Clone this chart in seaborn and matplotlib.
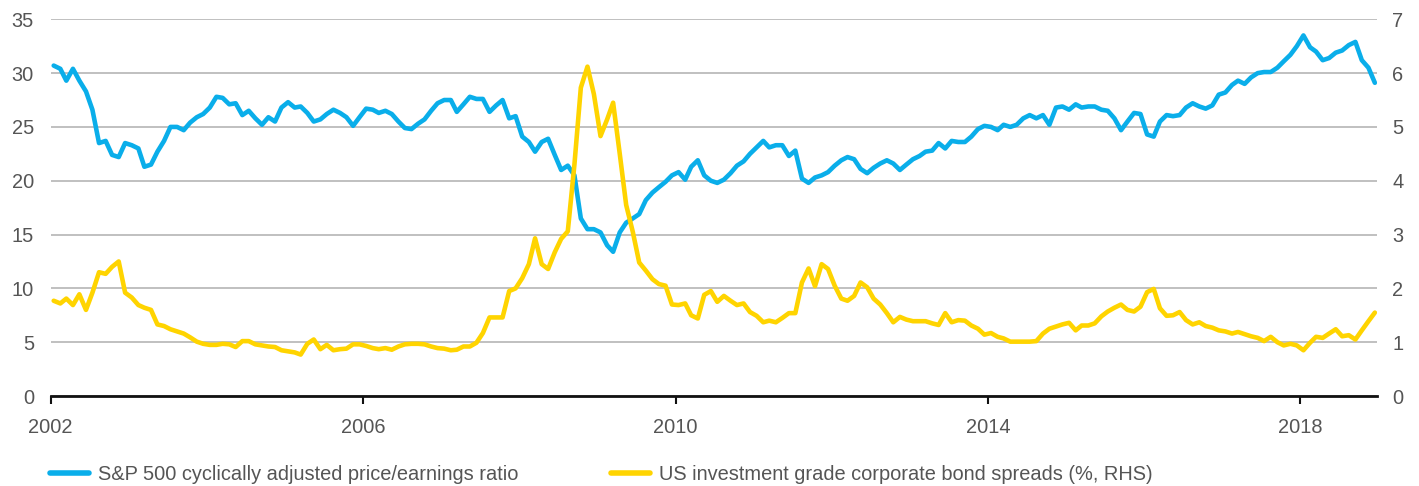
import numpy as np
import pandas as pd
import matplotlib
matplotlib.use("Agg")
import matplotlib.pyplot as plt
from matplotlib.lines import Line2D
import seaborn as sns

# ---------------- data (monthly, Jan 2002 - Dec 2018) ----------------
start_month = "2002-01-01"
n_months = 204

cape = [
    30.7, 30.4, 29.3, 30.4, 29.3, 28.3, 26.6, 23.5, 23.7, 22.4,
    22.2, 23.5, 23.3, 23.0, 21.3, 21.5, 22.7, 23.7, 25.0, 25.0,
    24.7, 25.4, 25.9, 26.2, 26.8, 27.8, 27.7, 27.1, 27.2, 26.1,
    26.5, 25.8, 25.2, 25.9, 25.5, 26.8, 27.3, 26.8, 26.9, 26.3,
    25.5, 25.7, 26.2, 26.6, 26.3, 25.9, 25.1, 25.9,
    26.7, 26.6, 26.3, 26.5, 26.2, 25.5, 24.9, 24.8, 25.3, 25.7, 26.5, 27.2, 27.5, 27.5,
    26.4, 27.1, 27.8, 27.6, 27.6, 26.4, 27.0, 27.5,
    25.8, 26.0, 24.1, 23.6, 22.7, 23.6, 23.9, 22.4, 21.0, 21.4,
    20.5, 16.5, 15.5, 15.5, 15.2, 14.0, 13.4, 15.2, 16.1, 16.5,
    16.9, 18.2, 18.9, 19.4, 19.9, 20.5, 20.8, 20.1, 21.3, 21.9,
    20.5, 20.0, 19.8, 20.1, 20.7, 21.4, 21.8, 22.5, 23.1, 23.7,
    23.1, 23.3, 23.3, 22.3, 22.8, 20.2, 19.8, 20.3, 20.5, 20.8,
    21.4, 21.9, 22.2, 22.0, 21.1, 20.7, 21.2, 21.6, 21.9, 21.6,
    21.0, 21.5, 22.0, 22.3, 22.7, 22.8, 23.5, 23.0, 23.7, 23.6,
    23.6, 24.1, 24.8, 25.1, 25.0, 24.7, 25.2, 25.0, 25.2, 25.8,
    26.1, 25.8, 26.1, 25.2, 26.8, 26.9, 26.6, 27.1, 26.8, 26.9,
    26.9, 26.6, 26.5, 25.8, 24.7, 25.5, 26.3, 26.2, 24.3, 24.1,
    25.5, 26.1, 26.0, 26.1, 26.8, 27.2, 26.9, 26.7, 27.0, 28.0,
    28.2, 28.9, 29.3, 29.0, 29.6, 30.0, 30.1, 30.1, 30.5, 31.1,
    31.7, 32.5, 33.5, 32.4, 32.0, 31.2, 31.4, 31.9, 32.1, 32.6,
    32.9, 31.2, 30.5, 29.1,
]

spread = [
    1.77, 1.72, 1.81, 1.69, 1.89, 1.60, 1.92, 2.30, 2.27, 2.40,
    2.50, 1.92, 1.83, 1.69, 1.64, 1.60, 1.33, 1.30, 1.24, 1.20,
    1.16, 1.09, 1.01, 0.97, 0.95, 0.95, 0.97, 0.96, 0.91, 1.02,
    1.02, 0.96, 0.94, 0.92, 0.91, 0.85, 0.83, 0.81, 0.77, 0.97,
    1.05, 0.87, 0.95, 0.85, 0.87, 0.88, 0.96, 0.96, 0.93, 0.89,
    0.87, 0.89, 0.86, 0.92, 0.96, 0.97, 0.97, 0.96, 0.92, 0.89,
    0.88, 0.85, 0.86, 0.92, 0.92, 0.99, 1.17, 1.46, 1.46, 1.46,
    1.95, 2.00, 2.19, 2.45, 2.93, 2.45, 2.36, 2.67, 2.92, 3.06,
    4.30, 5.73, 6.12, 5.61, 4.83, 5.14, 5.45, 4.50, 3.55, 3.05,
    2.48, 2.33, 2.17, 2.08, 2.05, 1.70, 1.69, 1.72, 1.50, 1.44,
    1.88, 1.95, 1.75, 1.86, 1.77, 1.69, 1.72, 1.56, 1.49, 1.37,
    1.40, 1.37, 1.45, 1.54, 1.54, 2.11, 2.37, 2.04, 2.45, 2.36,
    2.05, 1.81, 1.77, 1.86, 2.11, 2.02, 1.81, 1.70, 1.54, 1.37,
    1.47, 1.42, 1.39, 1.39, 1.39, 1.35, 1.32, 1.54, 1.37, 1.41,
    1.40, 1.31, 1.25, 1.14, 1.17, 1.10, 1.07, 1.01, 1.01, 1.01,
    1.01, 1.02, 1.16, 1.25, 1.29, 1.33, 1.36, 1.22, 1.31, 1.31,
    1.35, 1.48, 1.57, 1.64, 1.70, 1.60, 1.57, 1.66, 1.93, 1.99,
    1.63, 1.49, 1.50, 1.56, 1.41, 1.33, 1.37, 1.30, 1.27, 1.22,
    1.20, 1.16, 1.19, 1.15, 1.11, 1.08, 1.02, 1.10, 1.00, 0.94,
    0.97, 0.94, 0.85, 0.99, 1.10, 1.08, 1.16, 1.24, 1.11, 1.13,
    1.05, 1.22, 1.39, 1.55,
]

year_ticks = [2002, 2006, 2010, 2014, 2018]
left_ticks = [0, 5, 10, 15, 20, 25, 30, 35]
right_ticks = [0, 1, 2, 3, 4, 5, 6, 7]
cape_label = "S&P 500 cyclically adjusted price/earnings ratio"
spread_label = "US investment grade corporate bond spreads (%, RHS)"

# ---------------- styling ----------------
BLUE = "#0AAEEA"
YELLOW = "#FFD400"
GRID = "#B5B5B5"
TEXT = "#555555"
FS = 14.4

sns.set_theme(style="white")
plt.rcParams["font.family"] = ["Liberation Sans", "DejaVu Sans"]

dates = pd.date_range(start_month, periods=n_months, freq="MS") + pd.Timedelta(days=14)
df = pd.DataFrame({"date": dates, "cape": cape, "spread": spread})

W, H = 1419, 486
fig = plt.figure(figsize=(W / 100, H / 100), dpi=100)
left_px, right_px, top_px, bottom_px = 50.7, 1377, 19.3, 396
ax = fig.add_axes([left_px / W, 1 - bottom_px / H,
                   (right_px - left_px) / W, (bottom_px - top_px) / H])
ax2 = ax.twinx()

sns.lineplot(data=df, x="date", y="cape", ax=ax, color=BLUE, linewidth=3.3,
             legend=False)
sns.lineplot(data=df, x="date", y="spread", ax=ax2, color=YELLOW, linewidth=3.3,
             legend=False)

ax.set_ylim(0, 35)
ax2.set_ylim(0, 7)
ax.set_xlim(pd.Timestamp("2002-01-01"), pd.Timestamp("2018-12-25"))

ax.set_yticks(left_ticks)
ax2.set_yticks(right_ticks)
ax.set_xticks([pd.Timestamp(f"{y}-01-01") for y in year_ticks])
ax.set_xticklabels([str(y) for y in year_ticks])

for a in (ax, ax2):
    a.set_xlabel("")
    a.set_ylabel("")
    for s in ("top", "left", "right"):
        a.spines[s].set_visible(False)
ax2.spines["bottom"].set_visible(False)
ax.spines["bottom"].set_color("#111111")
ax.spines["bottom"].set_linewidth(2.0)
ax.spines["bottom"].set_zorder(5)

ax.yaxis.grid(True, color=GRID, linewidth=1.2)
ax.xaxis.grid(False)
ax2.grid(False)
ax.set_axisbelow(True)

ax.tick_params(axis="y", length=0, pad=12, labelsize=FS, labelcolor=TEXT)
ax2.tick_params(axis="y", length=0, pad=11, labelsize=FS, labelcolor=TEXT)
ax.tick_params(axis="x", bottom=True, length=6, width=1.5, color="#111111",
               direction="out", pad=10, labelsize=FS, labelcolor=TEXT)

handles = [
    Line2D([], [], color=BLUE, linewidth=4, solid_capstyle="round"),
    Line2D([], [], color=YELLOW, linewidth=4, solid_capstyle="round"),
]
fig.legend(handles, [cape_label, spread_label], loc="center left",
           bbox_to_anchor=(50 / W, 1 - 474 / H), ncol=2, frameon=False,
           fontsize=FS, labelcolor=TEXT, handlelength=1.95, handletextpad=0.45,
           columnspacing=4.65, borderpad=0, borderaxespad=0)

fig.savefig("out.png", dpi=100)
